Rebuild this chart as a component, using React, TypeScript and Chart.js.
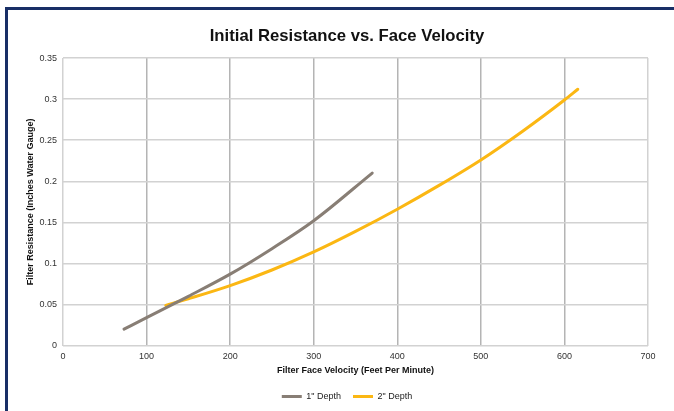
import React, { useEffect, useRef } from "react";
import { Chart, registerables } from "chart.js";

Chart.register(...registerables);

const chartTitle = "Initial Resistance vs. Face Velocity";
const xAxisTitle = "Filter Face Velocity (Feet Per Minute)";
const yAxisTitle = "Filter Resistance (Inches Water Gauge)";

const depth1Label = '1" Depth';
const depth1X = [73, 100, 150, 200, 250, 300, 370];
const depth1Y = [0.02, 0.034, 0.06, 0.087, 0.118, 0.152, 0.21];

const depth2Label = '2" Depth';
const depth2X = [123, 150, 200, 250, 300, 350, 400, 450, 500, 550, 600, 616];
const depth2Y = [0.049, 0.057, 0.073, 0.092, 0.114, 0.139, 0.166, 0.195, 0.226, 0.261, 0.299, 0.312];

const xTicks = [0, 100, 200, 300, 400, 500, 600, 700];
const yTicks = [0, 0.05, 0.1, 0.15, 0.2, 0.25, 0.3, 0.35];

const FONT = "'Liberation Sans', Arial, Helvetica, sans-serif";

export default function App() {
  const canvasRef = useRef<HTMLCanvasElement | null>(null);

  useEffect(() => {
    const canvas = canvasRef.current;
    if (!canvas) return;
    Chart.defaults.font.family = FONT;
    const chart = new Chart(canvas, {
      type: "line",
      data: {
        datasets: [
          {
            label: depth1Label,
            data: depth1X.map((x, i) => ({ x, y: depth1Y[i] })),
            borderColor: "#887e75",
            backgroundColor: "#887e75",
            borderWidth: 3,
            pointRadius: 0,
            cubicInterpolationMode: "monotone",
            borderCapStyle: "round",
          },
          {
            label: depth2Label,
            data: depth2X.map((x, i) => ({ x, y: depth2Y[i] })),
            borderColor: "#fbb713",
            backgroundColor: "#fbb713",
            borderWidth: 3,
            pointRadius: 0,
            cubicInterpolationMode: "monotone",
            borderCapStyle: "round",
          },
        ],
      },
      options: {
        animation: false,
        responsive: false,
        maintainAspectRatio: false,
        layout: { padding: { left: 20, right: 0, top: 0, bottom: 0 } },
        plugins: {
          title: {
            display: true,
            text: chartTitle,
            color: "#111",
            font: { size: 16.7, weight: "bold", family: FONT },
            padding: { top: 26, bottom: 12 },
          },
          legend: {
            position: "bottom",
            labels: {
              usePointStyle: true,
              pointStyle: "line",
              pointStyleWidth: 20,
              boxHeight: 9,
              color: "#222",
              font: { size: 9, family: FONT },
              padding: 12,
            },
          },
          tooltip: { enabled: false },
        },
        scales: {
          x: {
            type: "linear",
            min: 0,
            max: 700,
            afterBuildTicks: (s: any) => {
              s.ticks = xTicks.map((v) => ({ value: v }));
            },
            afterFit: (s: any) => {
              s.height = 34.4;
            },
            ticks: {
              color: "#333",
              font: { size: 9, family: FONT },
              padding: 6,
              maxRotation: 0,
            },
            grid: {
              drawTicks: false,
              lineWidth: 1.5,
              color: (c: any) =>
                c.index === 0 || c.index === xTicks.length - 1 ? "#d2d2d2" : "#b4b4b4",
            },
            border: { display: false },
            title: {
              display: true,
              text: xAxisTitle,
              color: "#111",
              font: { size: 9, weight: "bold", family: FONT },
              padding: { top: 4, bottom: 4 },
            },
          },
          y: {
            type: "linear",
            min: 0,
            max: 0.35,
            afterBuildTicks: (s: any) => {
              s.ticks = yTicks.map((v) => ({ value: v }));
            },
            afterFit: (s: any) => {
              s.width = 43;
            },
            ticks: {
              color: "#333",
              font: { size: 9, family: FONT },
              padding: 6,
              callback: (v: any) => String(Number(Number(v).toFixed(2))),
            },
            grid: {
              drawTicks: false,
              lineWidth: 1.5,
              color: "#d2d2d2",
            },
            border: { display: false },
            title: {
              display: true,
              text: yAxisTitle,
              color: "#111",
              font: { size: 9, weight: "bold", family: FONT },
              padding: { top: 5, bottom: 0 },
            },
          },
          y2: {
            type: "linear",
            position: "right",
            min: 0,
            max: 0.35,
            afterFit: (s: any) => {
              s.width = 26;
            },
            ticks: { display: false },
            grid: { display: false },
            border: { display: false },
          },
        },
      },
    });
    return () => chart.destroy();
  }, []);

  return (
    <div
      style={{
        position: "fixed",
        left: 0,
        top: 0,
        width: 674,
        height: 411,
        background: "#fff",
        overflow: "hidden",
      }}
    >
      <div
        style={{
          position: "absolute",
          left: 5,
          top: 7,
          width: 720,
          height: 460,
          borderLeft: "3px solid #182f66",
          borderTop: "3px solid #182f66",
        }}
      />
      <canvas
        ref={canvasRef}
        width={674}
        height={411}
        style={{ position: "absolute", left: 0, top: 0, width: 674, height: 411 }}
      />
    </div>
  );
}
